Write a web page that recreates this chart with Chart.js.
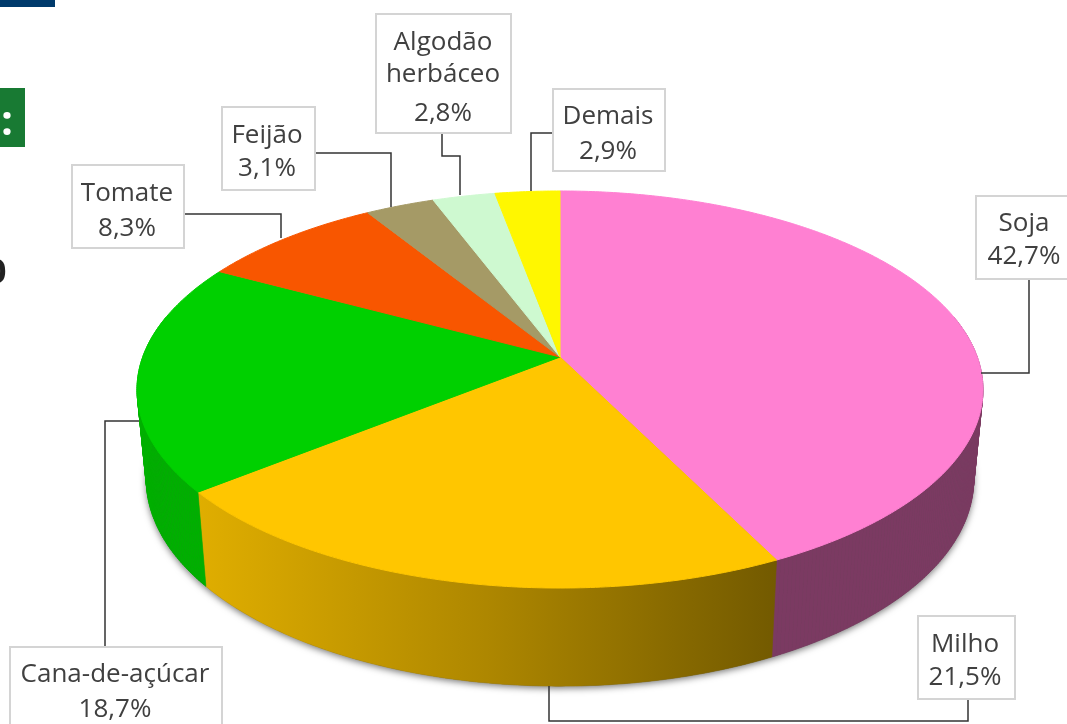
<!DOCTYPE html>
<html lang="pt">
<head>
<meta charset="utf-8">
<title>Culturas</title>
<script src="https://cdn.jsdelivr.net/npm/chart.js@4"></script>
<style>
  html, body { margin: 0; padding: 0; background: #fff; overflow: hidden; }
  #wrap { position: relative; width: 1067px; height: 724px; }
  canvas { filter: blur(0.5px); }
</style>
</head>
<body>
<div id="wrap"><canvas id="chart-pie" width="1067" height="724"></canvas></div>
<script>
const categories = ["Soja", "Milho", "Cana-de-açúcar", "Tomate", "Feijão", "Algodão herbáceo", "Demais"];
const shares = [42.7, 21.5, 18.7, 8.3, 3.1, 2.8, 2.9];
const topColors = ["#ff80d2", "#ffc600", "#00d000", "#f85600", "#a59a66", "#cef9d0", "#fff700"];
const sideColors = ["#7b3a62", null, "#00b000", "#a83a00", "#6e6644", "#8aa68b", "#aaa500"];

// perspective of the disc: top face is a projected unit circle
const cx = 560, cy = 357, ax = 417.3, ay = 193.2, persp = -0.1637;

function topPoint(angle, r) {
  const u = Math.cos(angle) * r, v = Math.sin(angle) * r;
  const w = 1 + persp * v;
  return [cx + (ax * u) / w, cy + (ay * v) / w];
}

function bottomPoint(angle) {
  const p = topPoint(angle, 1);
  return [cx + 0.978 * (p[0] - cx), 1.04 * p[1] + 74.6];
}

// label boxes: [left, top, right, bottom], text lines with baseline, leader line
const labelBoxes = [
  { box: [976, 196, 1075, 279], lines: [["Soja", 231], ["42,7%", 264]], tx: 1024, leader: [[1029, 279], [1029, 373], [981, 373]] },
  { box: [918, 616, 1015, 699], lines: [["Milho", 652], ["21,5%", 685]], tx: 965, leader: [[968, 699], [968, 721], [549, 721], [549, 686]] },
  { box: [10, 647, 222, 732], lines: [["Cana-de-açúcar", 682], ["18,7%", 717]], tx: 115, leader: [[105, 647], [105, 421], [139, 421]] },
  { box: [72, 165, 184, 248], lines: [["Tomate", 201], ["8,3%", 236]], tx: 127, leader: [[184, 214], [281, 214], [281, 238]] },
  { box: [222, 107, 315, 190], lines: [["Feijão", 143], ["3,1%", 176]], tx: 267, leader: [[315, 153], [391, 153], [391, 207]] },
  { box: [376, 14, 511, 133], lines: [["Algodão", 50], ["herbáceo", 82], ["2,8%", 121]], tx: 443, leader: [[442, 133], [442, 156], [460, 156], [460, 195]] },
  { box: [553, 89, 665, 171], lines: [["Demais", 124], ["2,9%", 159]], tx: 608, leader: [[553, 133], [531, 133], [531, 191]] },
];

function tracePath(ctx, pts) {
  ctx.beginPath();
  pts.forEach((p, i) => (i ? ctx.lineTo(p[0], p[1]) : ctx.moveTo(p[0], p[1])));
  ctx.closePath();
}

function arcSteps(a0, a1) {
  const n = Math.max(2, Math.ceil(Math.abs(a1 - a0) / 0.01));
  const out = [];
  for (let i = 0; i <= n; i++) out.push(a0 + ((a1 - a0) * i) / n);
  return out;
}

const pie3d = {
  id: "pie3d",
  beforeDatasetsDraw(chart) {
    const ctx = chart.ctx;
    const arcs = chart.getDatasetMeta(0).data;

    // soft shadow under the base
    ctx.save();
    ctx.shadowColor = "rgba(0,0,0,0.55)";
    ctx.shadowBlur = 7;
    ctx.shadowOffsetX = 0;
    ctx.shadowOffsetY = 2;
    ctx.fillStyle = "#555";
    tracePath(ctx, arcSteps(0, Math.PI * 2).map(bottomPoint));
    ctx.fill();
    ctx.restore();

    // side walls
    const milhoSide = ctx.createLinearGradient(197, 0, 775, 0);
    milhoSide.addColorStop(0, "#e0ae00");
    milhoSide.addColorStop(0.5, "#ae8700");
    milhoSide.addColorStop(1, "#735a00");
    arcs.forEach((arc, i) => {
      const steps = arcSteps(arc.startAngle, arc.endAngle).filter((a) => Math.sin(a) > -0.22);
      if (steps.length < 2) return;
      ctx.lineWidth = 0.6;
      if (!sideColors[i]) {
        // the gradient wall is fully in front, one polygon avoids seams
        ctx.fillStyle = milhoSide;
        ctx.strokeStyle = milhoSide;
        tracePath(ctx, steps.map((a) => topPoint(a, 1)).concat(steps.slice().reverse().map(bottomPoint)));
        ctx.fill();
        ctx.stroke();
        return;
      }
      // thin quads so the outline stays straight at the tangents
      ctx.fillStyle = sideColors[i];
      ctx.strokeStyle = sideColors[i];
      for (let s = 0; s < steps.length - 1; s++) {
        tracePath(ctx, [topPoint(steps[s], 1), topPoint(steps[s + 1], 1), bottomPoint(steps[s + 1]), bottomPoint(steps[s])]);
        ctx.fill();
        ctx.stroke();
      }
    });

    // top face
    arcs.forEach((arc, i) => {
      const pts = [[cx, cy]].concat(arcSteps(arc.startAngle, arc.endAngle).map((a) => topPoint(a, 1)));
      ctx.fillStyle = topColors[i];
      ctx.strokeStyle = topColors[i];
      ctx.lineWidth = 1;
      tracePath(ctx, pts);
      ctx.fill();
      ctx.stroke();
    });
    return false;
  },
  afterDraw(chart) {
    const ctx = chart.ctx;

    // bits of the page around the chart
    ctx.fillStyle = "#003a6b";
    ctx.fillRect(0, 0, 55, 7);
    ctx.fillStyle = "#187a33";
    ctx.fillRect(0, 88, 25, 59);
    ctx.fillStyle = "#fff";
    ctx.font = "bold 42px 'Open Sans'";
    ctx.textAlign = "center";
    ctx.textBaseline = "alphabetic";
    ctx.fillText(":", 7, 135);
    ctx.fillStyle = "#222";
    ctx.font = "bold 34px 'Open Sans'";
    ctx.textAlign = "left";
    ctx.fillText("0", -13, 283);

    labelBoxes.forEach((item) => {
      ctx.strokeStyle = "#333";
      ctx.lineWidth = 1.5;
      ctx.beginPath();
      item.leader.forEach((p, i) => (i ? ctx.lineTo(p[0], p[1]) : ctx.moveTo(p[0], p[1])));
      ctx.stroke();

      const b = item.box;
      ctx.fillStyle = "#fff";
      ctx.fillRect(b[0], b[1], b[2] - b[0], b[3] - b[1]);
      ctx.strokeStyle = "#d4d4d4";
      ctx.lineWidth = 2;
      ctx.strokeRect(b[0], b[1], b[2] - b[0], b[3] - b[1]);

      ctx.fillStyle = "#404040";
      ctx.font = "26px 'Open Sans'";
      ctx.textAlign = "center";
      ctx.textBaseline = "alphabetic";
      item.lines.forEach((ln) => ctx.fillText(ln[0], item.tx, ln[1]));
    });
  },
};

new Chart(document.getElementById("chart-pie").getContext("2d"), {
  type: "pie",
  plugins: [pie3d],
  data: {
    labels: categories,
    datasets: [{ data: shares, backgroundColor: topColors, borderWidth: 0 }],
  },
  options: {
    responsive: false,
    animation: false,
    plugins: { legend: { display: false }, tooltip: { enabled: false } },
  },
});
</script>
</body>
</html>
